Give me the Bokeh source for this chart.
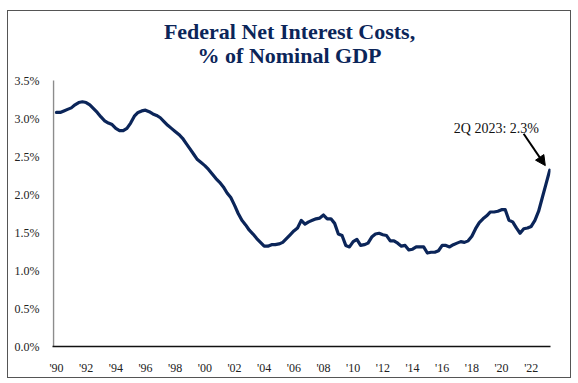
from bokeh.plotting import figure
from bokeh.models import ColumnDataSource, FixedTicker, Label, Arrow, NormalHead, Range1d
from bokeh.embed import file_html
from bokeh.resources import INLINE

# Quarterly federal net interest costs, % of nominal GDP, 1990Q1 - 2023Q2
start_year = 1990
values = [
    3.08, 3.08, 3.10, 3.12,   # 1990
    3.14, 3.18, 3.21, 3.22,   # 1991
    3.21, 3.18, 3.13, 3.08,   # 1992
    3.02, 2.97, 2.94, 2.92,   # 1993
    2.87, 2.84, 2.84, 2.87,   # 1994
    2.94, 3.03, 3.08, 3.10,   # 1995
    3.11, 3.09, 3.06, 3.04,   # 1996
    3.01, 2.96, 2.91, 2.87,   # 1997
    2.83, 2.79, 2.74, 2.67,   # 1998
    2.60, 2.53, 2.46, 2.42,   # 1999
    2.38, 2.33, 2.27, 2.21,   # 2000
    2.16, 2.10, 2.02, 1.96,   # 2001
    1.86, 1.75, 1.66, 1.60,   # 2002
    1.53, 1.48, 1.42, 1.37,   # 2003
    1.32, 1.32, 1.34, 1.34,   # 2004
    1.35, 1.37, 1.42, 1.47,   # 2005
    1.52, 1.56, 1.66, 1.61,   # 2006
    1.64, 1.66, 1.68, 1.69,   # 2007
    1.73, 1.68, 1.68, 1.62,   # 2008
    1.48, 1.46, 1.33, 1.31,   # 2009
    1.38, 1.41, 1.33, 1.34,   # 2010
    1.36, 1.44, 1.48, 1.49,   # 2011
    1.47, 1.46, 1.39, 1.39,   # 2012
    1.36, 1.32, 1.33, 1.27,   # 2013
    1.28, 1.31, 1.31, 1.31,   # 2014
    1.23, 1.24, 1.24, 1.26,   # 2015
    1.33, 1.33, 1.31, 1.34,   # 2016
    1.36, 1.38, 1.37, 1.39,   # 2017
    1.45, 1.55, 1.63, 1.68,   # 2018
    1.72, 1.77, 1.77, 1.78,   # 2019
    1.80, 1.80, 1.66, 1.64,   # 2020
    1.56, 1.49, 1.55, 1.56,   # 2021
    1.58, 1.66, 1.78, 1.96,   # 2022
    2.14, 2.32,               # 2023
]
dates = [start_year + i / 4 for i in range(len(values))]

y_ticks = [0.0, 0.5, 1.0, 1.5, 2.0, 2.5, 3.0, 3.5]
y_labels = ["0.0%", "0.5%", "1.0%", "1.5%", "2.0%", "2.5%", "3.0%", "3.5%"]
x_ticks = list(range(1990, 2023, 2))
x_labels = ["'" + str(y)[2:] for y in x_ticks]

title_line1 = "Federal Net Interest Costs,"
title_line2 = "% of Nominal GDP"
note_text = "2Q 2023: 2.3%"

NAVY = "#0b2559"
SERIF = "Liberation Serif"

X_AXIS_START = 1989.8
Y_TOP = 3.5

source = ColumnDataSource(data=dict(x=dates, y=values))

p = figure(
    width=562, height=364,
    frame_width=498, frame_height=335,
    min_border_left=44, min_border_right=20, min_border_top=0, min_border_bottom=29,
    x_range=Range1d(1989.733, 2023.3), y_range=Range1d(0, 4.408),
    output_backend="svg", toolbar_location=None,
    styles={"border": "1px solid #555555", "margin-left": "7px", "margin-top": "10px"},
)
p.title = None
p.outline_line_color = None
p.xgrid.grid_line_color = None
p.ygrid.grid_line_color = None

# y-axis line limited to the data area (0% .. 3.5%)
p.segment(x0=[X_AXIS_START], y0=[0], x1=[X_AXIS_START], y1=[Y_TOP],
          line_color="#8c8c8c", line_width=1.5)

p.line("x", "y", source=source, line_color=NAVY, line_width=3.2, line_join="round", line_cap="round")

p.yaxis.ticker = FixedTicker(ticks=y_ticks)
p.yaxis.major_label_overrides = {float(t): l for t, l in zip(y_ticks, y_labels)}
p.xaxis.ticker = FixedTicker(ticks=x_ticks)
p.xaxis.major_label_overrides = {float(t): l for t, l in zip(x_ticks, x_labels)}

for ax in (p.xaxis[0], p.yaxis[0]):
    ax.major_tick_line_color = None
    ax.minor_tick_line_color = None
    ax.major_label_text_font = SERIF
    ax.major_label_text_font_size = "12px"
    ax.major_label_text_color = "#222222"
p.yaxis.axis_line_color = None
p.xaxis.axis_line_color = "#111111"
p.xaxis.axis_line_width = 1.5
p.yaxis.major_label_standoff = 7
p.xaxis.major_label_standoff = 8

# Title, two centred lines
title_x = 2005.71
for txt, yy in zip([title_line1, title_line2], [4.145, 3.823]):
    p.add_layout(Label(x=title_x, y=yy, text=txt, text_font=SERIF, text_font_style="bold",
                       text_font_size="22px", text_color=NAVY, text_align="center",
                       text_baseline="alphabetic"))

# Annotation
p.add_layout(Label(x=2019.65, y=2.868, text=note_text, text_font=SERIF, text_font_size="14px",
                   text_color="#111111", text_align="center", text_baseline="alphabetic"))
p.add_layout(Arrow(end=NormalHead(size=10, fill_color="black", line_color="black"),
                   x_start=2021.49, y_start=2.80, x_end=2022.95, y_end=2.38,
                   line_color="black", line_width=2))

open("out.html", "w").write(file_html(p, INLINE))
